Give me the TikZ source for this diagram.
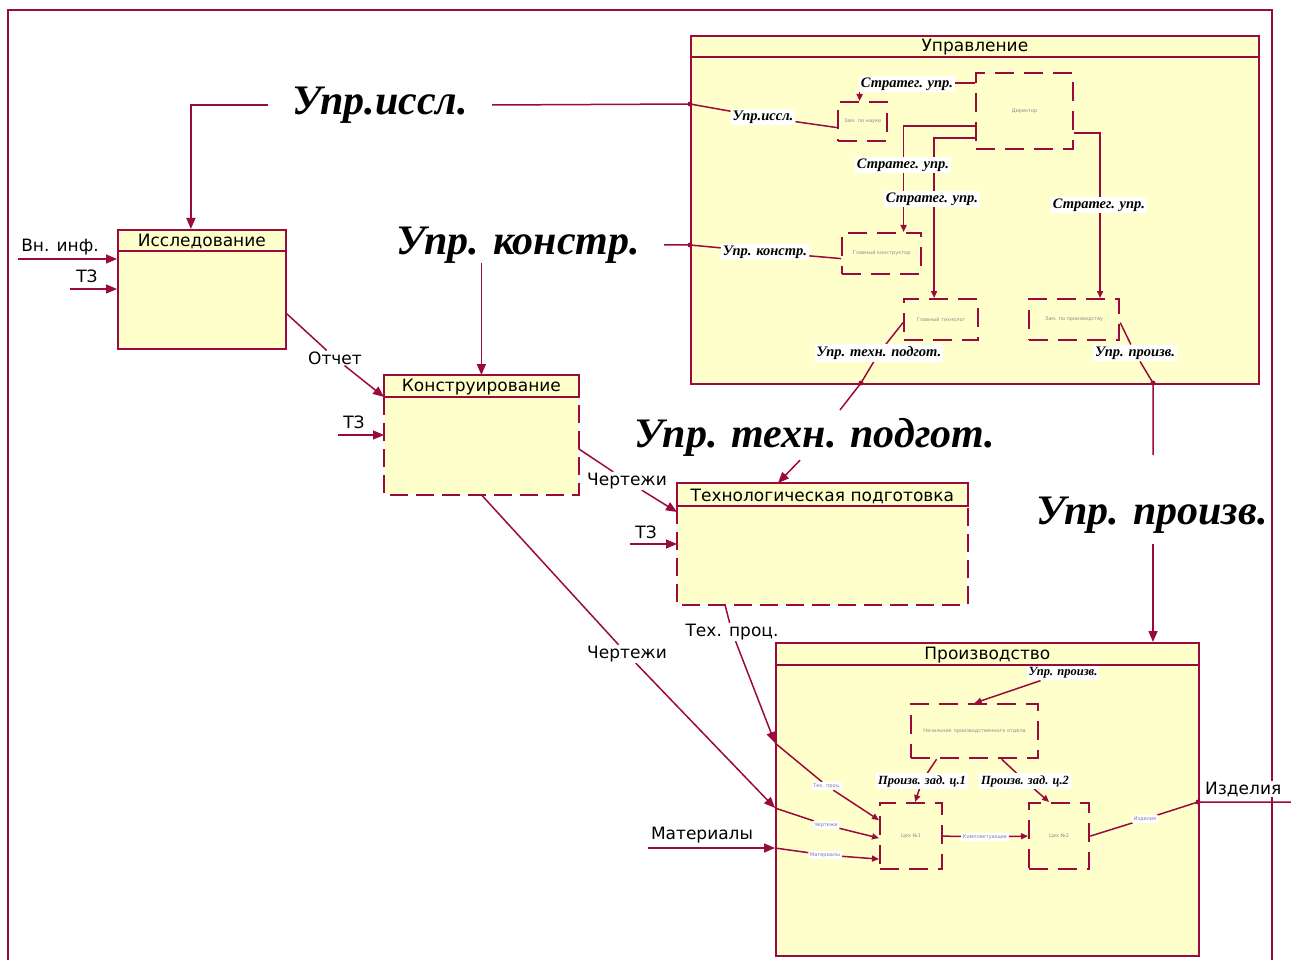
\documentclass[tikz,border=0pt]{standalone}
\usepackage{fontspec}
\setmainfont{Liberation Serif}
\setsansfont{DejaVu Sans}
\usetikzlibrary{arrows.meta, calc, backgrounds}
\pgfdeclarelayer{wires}
\pgfsetlayers{background,wires,main}
\definecolor{wine}{RGB}{155,10,60}
\definecolor{cream}{RGB}{255,255,204}
\definecolor{faint}{gray}{0.55}
\definecolor{haze}{RGB}{120,120,170}

\begin{document}
\begin{tikzpicture}[
  x=1pt, y=-1pt,
  font=\sffamily\fontsize{17}{20}\selectfont,
  unit/.style={draw=wine, fill=cream, line width=1.8pt, anchor=north west, inner sep=0pt},
  post/.style={draw=wine, fill=cream, line width=2.2pt, dash pattern=on 19pt off 10pt,
               anchor=north west, inner sep=0pt, text=faint,
               font=\sffamily\fontsize{5}{6}\selectfont},
  hline/.style={draw=wine, line width=1.8pt},
  dline/.style={draw=wine, line width=1.8pt, dash pattern=on 18pt off 8pt},
  big/.style={font=\rmfamily\bfseries\itshape\fontsize{42}{46}\selectfont, inner xsep=24pt, inner ysep=0pt},
  tag/.style={fill=white, inner sep=2pt, font=\rmfamily\bfseries\itshape\fontsize{14.5}{16}\selectfont},
  stag/.style={tag, font=\rmfamily\bfseries\itshape\fontsize{12.5}{14}\selectfont},
  lbl/.style={fill=white, inner sep=1pt},
  mini/.style={fill=white, inner sep=1.5pt, text=haze, font=\sffamily\fontsize{5}{6}\selectfont},
  wire/.style={draw=wine, line width=1.5pt},
  arr/.style={wire, -{Triangle[length=11pt,width=9pt]}},
  ptr/.style={wire, -{Triangle[length=7pt,width=6pt]}},
]
\useasboundingbox (0,0) rectangle (1291,960);

% frame and the two big containers
\begin{pgfonlayer}{background}
\draw[wire] (8,965) -- (8,10) -- (1272,10) -- (1272,965);
\node[unit, minimum width=568, minimum height=348] (upr) at (690,35) {};
\node[unit, minimum width=423, minimum height=313] (prod) at (775,642) {};
\end{pgfonlayer}
\draw[hline] ($(upr.north west)+(0,22)$) -- ($(upr.north east)+(0,22)$);
\node (uprT) at ($(upr.north)+(0,12)$) {Управление};
\draw[hline] ($(prod.north west)+(0,23)$) -- ($(prod.north east)+(0,23)$);
\node (prodT) at ($(prod.north)+(0,13)$) {Производство};

% top level units
\node[unit, minimum width=168, minimum height=119] (res) at (117,229) {};
\draw[hline] ($(res.north west)+(0,22)$) -- ($(res.north east)+(0,22)$);
\node (resT) at ($(res.north)+(0,12)$) {Исследование};

\node[unit, draw=none, minimum width=193, minimum height=118] (kon) at (384,375) {};
\draw[hline] (kon.north west) rectangle ($(kon.north east)+(0,22)$);
\draw[dline] ($(kon.north west)+(0,22)$) -- (kon.south west) -- (kon.south east) -- ($(kon.north east)+(0,22)$);
\node (konT) at ($(kon.north)+(0,12)$) {Конструирование};

\node[unit, draw=none, minimum width=289, minimum height=120] (tech) at (677,483) {};
\draw[hline] (tech.north west) rectangle ($(tech.north east)+(0,23)$);
\draw[dline] ($(tech.north west)+(0,23)$) -- (tech.south west) -- (tech.south east) -- ($(tech.north east)+(0,23)$);
\node (techT) at ($(tech.north)+(0,13)$) {Технологическая подготовка};

% inner posts
\node[post, minimum width=49, minimum height=39] (zn) at (837,101) {Зам. по науке};
\node[post, minimum width=97, minimum height=76] (dir) at (975,72) {Директор};
\node[post, minimum width=79, minimum height=41] (gk) at (841,232) {Главный конструктор};
\node[post, minimum width=74, minimum height=41] (gt) at (903,298) {Главный технолог};
\node[post, minimum width=90, minimum height=41] (zp) at (1028,298) {Зам. по производству};
\node[post, minimum width=127, minimum height=54] (nach) at (910,703) {Начальник производственного отдела};
\node[post, minimum width=62, minimum height=66] (c1) at (879,802) {Цех №1};
\node[post, minimum width=60, minimum height=66] (c2) at (1028,802) {Цех №2};

% big control labels
\node[big] (bRes) at (380,105) {Упр.иссл.};
\node[big] (bKon) at (518,245) {Упр. констр.};
\node[big] (bTech) at (815,437) {Упр. техн. подгот.};
\node[big] (bProd) at (1152,515) {Упр. произв.};

% italic tags
\node[tag] (tRes) at (763,117) {Упр.иссл.};
\node[tag] (tKon) at (765,252) {Упр. констр.};
\node[tag] (tTech) at (879,353) {Упр. техн. подгот.};
\node[tag] (tProd) at (1135,353) {Упр. произв.};
\node[tag] (sA) at (907,84) {Стратег. упр.};
\node[tag] (sB) at (903,165) {Стратег. упр.};
\node[tag] (sC) at (932,199) {Стратег. упр.};
\node[tag] (sD) at (1099,205) {Стратег. упр.};
\node[stag] (tProd2) at (1063,673) {Упр. произв.};
\node[stag] (tZ1) at (922,781) {Произв. зад. ц.1};
\node[stag] (tZ2) at (1025,781) {Произв. зад. ц.2};

% flow labels
\node[lbl] (lVn) at (60,247) {Вн. инф.};
\node[lbl] (lTz1) at (87,276) {ТЗ};
\node[lbl] (lOt) at (335,358) {Отчет};
\node[lbl] (lTz2) at (354,422) {ТЗ};
\node[lbl] (lCh1) at (627,481) {Чертежи};
\node[lbl] (lTz3) at (646,532) {ТЗ};
\node[lbl] (lTp) at (732,632) {Тех. проц.};
\node[lbl] (lCh2) at (627,654) {Чертежи};
\node[lbl] (lMat) at (702,835) {Материалы};
\node[lbl, anchor=west] (lIzd) at (1204,789) {Изделия};
\node[mini] (mTp) at (827,786) {Тех. проц.};
\node[mini] (mCh) at (826,825) {Чертежи};
\node[mini] (mMat) at (825,855) {Материалы};
\node[mini] (mKom) at (985,837) {Комплектующие};
\node[mini] (mIzd) at (1145,819) {Изделия};

% tunnel points
\coordinate (pRes) at (690,104);
\coordinate (pKon) at (690,245);
\coordinate (pTech) at (861,383);
\coordinate (eTech) at (840,410);
\coordinate (pProd) at (1153,383);
\coordinate (eProd) at (1153,455);
\coordinate (pTp) at (775,743);
\coordinate (pCh) at (775,808);
\coordinate (pMat) at (775,848);
\coordinate (pIzd) at (1198,802);
\coordinate (eIzd) at (1291,802);
\coordinate (vnIn) at (18,259);
\coordinate (tzIn1) at (70,289);
\coordinate (tzIn2) at (338,435);
\coordinate (tzIn3) at (630,544);
\coordinate (matIn) at (648,848);

\begin{pgfonlayer}{wires}
% research
\draw[arr] (vnIn) -- (vnIn -| res.west);
\draw[arr] (tzIn1) -- (tzIn1 -| res.west);
\draw[arr] (bRes.west) -| ($(res.north)+(-11,0)$);
\draw[wire] (bRes.east) -- (pRes) -- (tRes) -- ($(zn.west)+(0,6)$);
\draw[arr] ($(res.south east)+(0,-36)$) -- (lOt) -- ($(kon.north west)+(0,22)$);
% design
\draw[arr] (bKon.south -| kon.north) -- (kon.north);
\draw[wire] (bKon.east) -- (pKon) -- (tKon) -- ($(gk.west)+(0,5)$);
\draw[arr] (tzIn2) -- (tzIn2 -| kon.west);
\draw[arr] ($(kon.east)+(0,14)$) -- (lCh1) -- ($(tech.north west)+(0,29)$);
% technology
\draw[arr] (tzIn3) -- (tzIn3 -| tech.west);
\draw[wire] ($(gt.west)+(0,3)$) -- (tTech) -- (pTech) -- (eTech);
\draw[arr] ($(bTech.south)+(-15,4)$) -- ($(tech.north west)+(101,0)$);
% production inputs
\draw[arr] ($(tech.south west)+(48,0)$) -- (lTp) -- (pTp);
\draw[ptr] (pTp) -- (mTp) -- ($(c1.west)+(0,-16)$);
\draw[arr] (kon.south) -- (lCh2) -- (pCh);
\draw[ptr] (pCh) -- (mCh) -- ($(c1.west)+(0,2)$);
\draw[arr] (matIn) -- (pMat);
\draw[ptr] (pMat) -- (mMat) -- ($(c1.west)+(0,23)$);
% management to production
\draw[wire] ($(zp.east)+(0,3)$) -- (tProd) -- (pProd) -- (eProd);
\draw[arr] ($(bProd.south -| pProd)+(0,11)$) -- (pProd |- prod.north);
% inside management
\draw[ptr] ($(dir.north west)+(0,11)$) -| ($(zn.north)+(-3,0)$);
\draw[ptr] ($(dir.north west)+(0,54)$) -| ($(gk.north)+(22,0)$);
\draw[ptr] ($(dir.north west)+(0,66)$) -| ($(gt.north)+(-7,0)$);
\draw[ptr] ($(dir.north east)+(0,61)$) -| ($(zp.north)+(26,0)$);
% inside production
\draw[ptr] (tProd2) -- (nach.north);
\draw[ptr] ($(nach.south)+(-38,0)$) -- (tZ1) -- ($(c1.north)+(4,0)$);
\draw[ptr] ($(nach.south)+(27,0)$) -- (tZ2) -- ($(c2.north)+(-10,0)$);
\draw[ptr] (c1.east) -- (mKom) -- (c2.west);
\draw[wire] (c2.east) -- (mIzd) -- (pIzd) -- (eIzd);
\foreach \p in {pRes, pKon, pTech, pProd, pIzd}
  \fill[wine] (\p) circle (2.5pt);
\end{pgfonlayer}
\end{tikzpicture}
\end{document}
